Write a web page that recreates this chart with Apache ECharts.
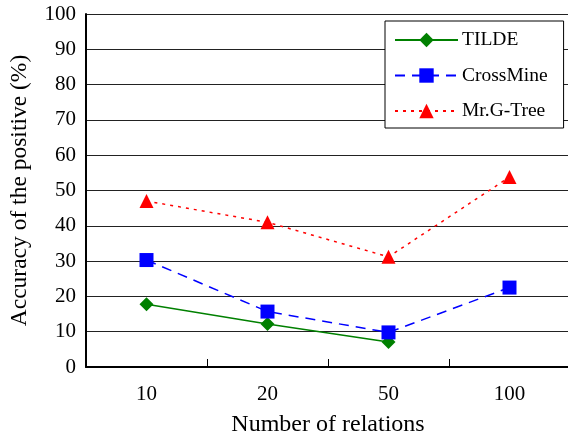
<!DOCTYPE html>
<html>
<head>
<meta charset="utf-8">
<script src="https://cdn.jsdelivr.net/npm/echarts@6/dist/echarts.min.js"></script>
<style>
  html, body { margin: 0; padding: 0; background: #fff; }
  #chart { width: 568px; height: 438px; }
</style>
</head>
<body>
<div id="chart"></div>
<script>
var categories = ['10', '20', '50', '100']
var tilde = [17.8, 12.2, 7.1, null]
var crossMine = [30.3, 15.7, 9.8, 22.5]
var mrGTree = [47, 41, 31.2, 53.8]
var seriesNames = ['TILDE', 'CrossMine', 'Mr.G-Tree']

var font = '"Liberation Serif", "Times New Roman", serif'
var chart = echarts.init(document.getElementById('chart'))

var option = {
  animation: false,
  backgroundColor: '#fff',
  textStyle: { fontFamily: font, color: '#000' },
  grid: { left: 86, top: 14, right: -2, bottom: 71, outerBoundsMode: 'none', containLabel: false },
  legend: {
    orient: 'vertical',
    left: 385,
    top: 21,
    data: seriesNames,
    itemWidth: 63,
    itemHeight: 18,
    itemGap: 15.5,
    padding: [9, 16, 7, 9],
    borderColor: '#000',
    borderWidth: 1,
    borderRadius: 0,
    backgroundColor: '#fff',
    textStyle: { fontFamily: font, fontSize: 19.5, color: '#000', padding: [0, 0, 0, -1] }
  },
  xAxis: {
    type: 'category',
    data: categories,
    boundaryGap: true,
    name: 'Number of relations',
    nameLocation: 'middle',
    nameGap: 46,
    nameTextStyle: { fontFamily: font, fontSize: 24, color: '#000' },
    axisLine: { lineStyle: { color: '#000', width: 2 } },
    axisTick: { show: true, inside: true, length: 8, lineStyle: { color: '#000', width: 1 } },
    axisLabel: { fontFamily: font, fontSize: 21, color: '#000', margin: 17 },
    splitLine: { show: false }
  },
  yAxis: {
    type: 'value',
    min: 0,
    max: 100,
    interval: 10,
    name: 'Accuracy of the positive (%)',
    nameLocation: 'middle',
    nameGap: 54,
    nameTextStyle: { fontFamily: font, fontSize: 23.5, color: '#000' },
    axisLine: { show: true, lineStyle: { color: '#000', width: 2 } },
    axisTick: { show: false },
    axisLabel: { fontFamily: font, fontSize: 21, color: '#000', margin: 10 },
    splitLine: { show: true, lineStyle: { color: '#222', width: 1 } }
  },
  series: [
    {
      name: seriesNames[0],
      type: 'line',
      data: tilde,
      symbol: 'diamond',
      symbolSize: 14,
      itemStyle: { color: '#008000' },
      lineStyle: { color: '#008000', width: 1.5, type: 'solid' },
      z: 3
    },
    {
      name: seriesNames[1],
      type: 'line',
      data: crossMine,
      symbol: 'rect',
      symbolSize: 14,
      itemStyle: { color: '#0000ff' },
      lineStyle: { color: '#0000ff', width: 1.5, type: [10, 7] },
      z: 4
    },
    {
      name: seriesNames[2],
      type: 'line',
      data: mrGTree,
      symbol: 'triangle',
      symbolSize: 14,
      itemStyle: { color: '#ff0000' },
      lineStyle: { color: '#ff0000', width: 1.5, type: [3, 5] },
      z: 5
    }
  ]
}

chart.setOption(option)
</script>
</body>
</html>
